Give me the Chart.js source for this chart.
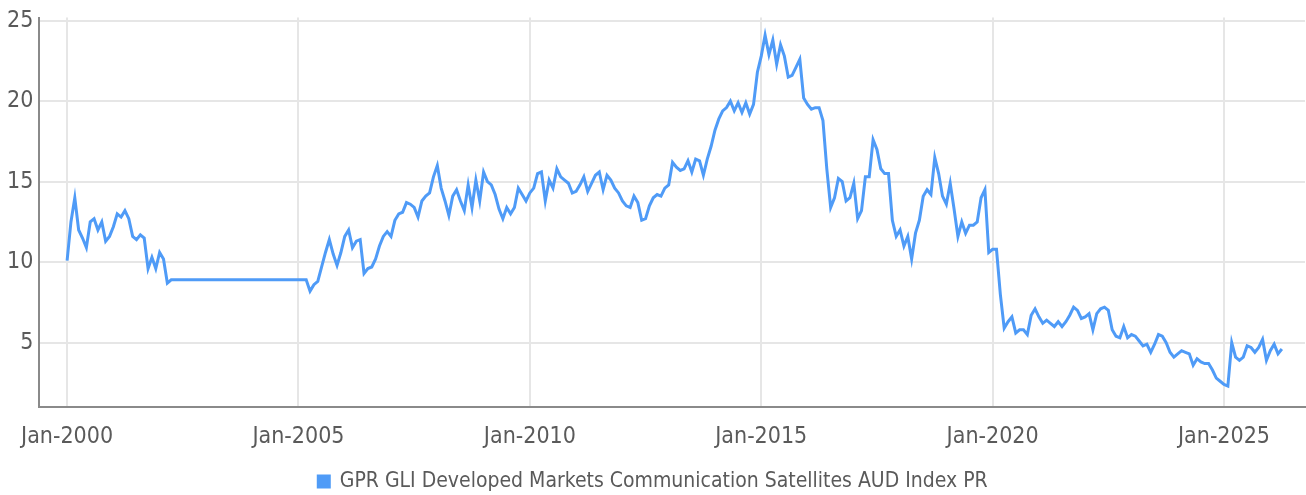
<!DOCTYPE html>
<html>
<head>
<meta charset="utf-8">
<script src="https://cdn.jsdelivr.net/npm/chart.js@4.4.1/dist/chart.umd.min.js"></script>
<style>
    html, body { margin: 0; padding: 0; background: #ffffff; }
    #wrap { width: 1306px; height: 495px; }
</style>
</head>
<body>
<div id="wrap"><canvas id="indexChart"></canvas></div>
<script>
// ======================================
// Data: monthly closes
// ======================================

const seriesName = "GPR GLI Developed Markets Communication Satellites AUD Index PR";

const firstYear = 2000;

const v2000 = [10.1, 12.5, 14.0, 12.0, 11.5, 10.9, 12.5, 12.7, 12.0, 12.5, 11.3, 11.6];
const v2001 = [12.2, 13.0, 12.8, 13.2, 12.7, 11.6, 11.4, 11.7, 11.5, 9.6, 10.3, 9.6];
const v2002 = [10.6, 10.2, 8.7, 8.9, 8.9, 8.9, 8.9, 8.9, 8.9, 8.9, 8.9, 8.9];
const v2003 = [8.9, 8.9, 8.9, 8.9, 8.9, 8.9, 8.9, 8.9, 8.9, 8.9, 8.9, 8.9];
const v2004 = [8.9, 8.9, 8.9, 8.9, 8.9, 8.9, 8.9, 8.9, 8.9, 8.9, 8.9, 8.9];
const v2005 = [8.9, 8.9, 8.9, 8.2, 8.6, 8.8, 9.7, 10.6, 11.4, 10.5, 9.8, 10.6];
const v2006 = [11.6, 12.0, 10.9, 11.3, 11.4, 9.3, 9.6, 9.7, 10.2, 11.0, 11.6, 11.9];
const v2007 = [11.6, 12.6, 13.0, 13.1, 13.7, 13.6, 13.4, 12.8, 13.8, 14.1, 14.3, 15.3];
const v2008 = [16.0, 14.6, 13.8, 12.9, 14.1, 14.5, 13.8, 13.2, 14.8, 13.4, 15.1, 13.8];
const v2009 = [15.6, 15.0, 14.8, 14.2, 13.3, 12.7, 13.4, 13.0, 13.4, 14.6, 14.2, 13.8];
const v2010 = [14.3, 14.6, 15.5, 15.6, 13.8, 15.1, 14.6, 15.8, 15.3, 15.1, 14.9, 14.3];
const v2011 = [14.4, 14.8, 15.3, 14.4, 14.9, 15.4, 15.6, 14.5, 15.4, 15.1, 14.6, 14.3];
const v2012 = [13.8, 13.5, 13.4, 14.1, 13.7, 12.6, 12.7, 13.5, 14.0, 14.2, 14.1, 14.6];
const v2013 = [14.8, 16.2, 15.9, 15.7, 15.8, 16.3, 15.6, 16.4, 16.3, 15.4, 16.4, 17.2];
const v2014 = [18.2, 18.9, 19.4, 19.6, 20.0, 19.4, 19.9, 19.3, 19.9, 19.2, 19.8, 21.8];
const v2015 = [22.8, 24.1, 22.9, 23.8, 22.3, 23.5, 22.8, 21.5, 21.6, 22.1, 22.6, 20.2];
const v2016 = [19.8, 19.5, 19.6, 19.6, 18.8, 15.8, 13.4, 14.0, 15.2, 15.0, 13.8, 14.0];
const v2017 = [14.9, 12.7, 13.2, 15.3, 15.3, 17.6, 17.0, 15.8, 15.5, 15.5, 12.6, 11.6];
const v2018 = [12.0, 11.0, 11.6, 10.2, 11.8, 12.6, 14.1, 14.5, 14.2, 16.5, 15.5, 14.1];
const v2019 = [13.6, 14.9, 13.3, 11.6, 12.5, 11.8, 12.3, 12.3, 12.5, 14.0, 14.5, 10.6];
const v2020 = [10.8, 10.8, 8.0, 5.9, 6.3, 6.6, 5.6, 5.8, 5.8, 5.5, 6.7, 7.1];
const v2021 = [6.6, 6.2, 6.4, 6.2, 6.0, 6.3, 6.0, 6.3, 6.7, 7.2, 7.0, 6.5];
const v2022 = [6.6, 6.8, 5.8, 6.8, 7.1, 7.2, 7.0, 5.8, 5.4, 5.3, 6.0, 5.3];
const v2023 = [5.5, 5.4, 5.1, 4.8, 4.9, 4.4, 4.9, 5.5, 5.4, 5.0, 4.4, 4.1];
const v2024 = [4.3, 4.5, 4.4, 4.3, 3.6, 4.0, 3.8, 3.7, 3.7, 3.3, 2.8, 2.6];
const v2025 = [2.4, 2.3, 5.0, 4.1, 3.9, 4.1, 4.8, 4.7, 4.4, 4.7, 5.2, 3.9];
const v2026 = [4.5, 4.9, 4.3, 4.6];

const yearTicks = [2000, 2005, 2010, 2015, 2020, 2025];
const valueTicks = [5, 10, 15, 20, 25];

// ======================================
// Build points (x = decimal year)
// ======================================

const allValues = [].concat(
    v2000, v2001, v2002, v2003, v2004, v2005, v2006, v2007, v2008,
    v2009, v2010, v2011, v2012, v2013, v2014, v2015, v2016, v2017,
    v2018, v2019, v2020, v2021, v2022, v2023, v2024, v2025, v2026
);

const points = allValues.map((v, i) => ({ x: firstYear + i / 12, y: v }));

const textColor = "#5a5a5a";
const lineColor = "#4f9bf7";
const fontFamily = "'DejaVu Sans Condensed', sans-serif";

const ctx = document.getElementById("indexChart").getContext("2d");

new Chart(ctx, {

    type: "line",

    data: {
        datasets: [{
            label: seriesName,
            data: points,
            borderColor: lineColor,
            backgroundColor: lineColor,
            borderWidth: 3,
            pointRadius: 0,
            tension: 0,
            fill: false
        }]
    },

    options: {
        responsive: true,
        maintainAspectRatio: false,
        animation: false,
        layout: {
            padding: { left: 1, right: 1, top: -3, bottom: -7 }
        },
        plugins: {
            tooltip: { enabled: false },
            legend: {
                position: "bottom",
                labels: {
                    color: textColor,
                    boxWidth: 11,
                    boxHeight: 11,
                    padding: 4,
                    font: { family: fontFamily, size: 21, lineHeight: 1 }
                }
            }
        },
        scales: {
            x: {
                type: "linear",
                min: 1999.4,
                max: 2026.75,
                afterBuildTicks: (scale) => {
                    scale.ticks = yearTicks.map(v => ({ value: v }));
                },
                afterFit: (scale) => {
                    scale.height -= 1;
                },
                ticks: {
                    autoSkip: false,
                    maxRotation: 0,
                    padding: 19,
                    color: textColor,
                    font: { family: fontFamily, size: 23, lineHeight: 1 },
                    callback: (v) => "Jan-" + v
                },
                grid: {
                    color: "#e6e6e6",
                    lineWidth: 2,
                    drawTicks: false
                },
                border: { color: "#8a8a8a", width: 2 }
            },
            y: {
                min: 1.0,
                max: 25.2,
                afterBuildTicks: (scale) => {
                    scale.ticks = valueTicks.map(v => ({ value: v }));
                },
                ticks: {
                    padding: 6,
                    color: textColor,
                    font: { family: fontFamily, size: 23, lineHeight: 1 }
                },
                grid: {
                    color: "#e6e6e6",
                    lineWidth: 2,
                    drawTicks: false
                },
                border: { color: "#8a8a8a", width: 2 }
            }
        }
    }

});
</script>
</body>
</html>
